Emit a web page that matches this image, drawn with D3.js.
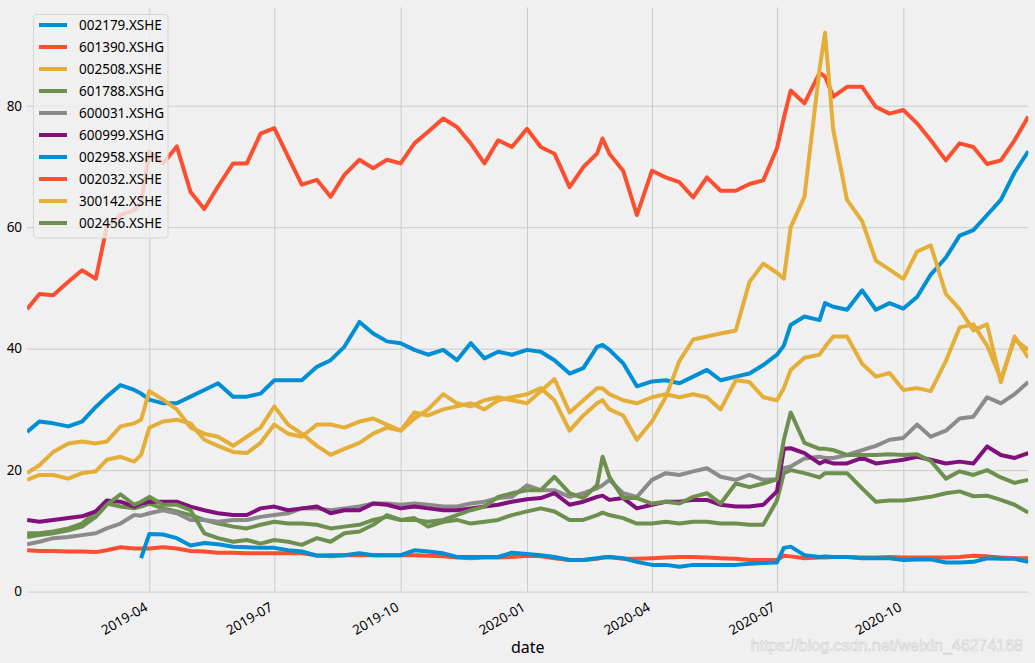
<!DOCTYPE html>
<html lang="en">

<head>
    <meta charset="UTF-8">
    <title>Document</title>
    <style>
        body {
            margin: 0;
            background: #f0f0f0;
        }

        svg {
            display: block;
        }

        .axis text {
            font-family: "Noto Sans", sans-serif;
            font-size: 13.5px;
            fill: #000;
        }

        .axis line {
            stroke: #cbcbcb;
            stroke-width: 1;
        }

        .axis path {
            display: none;
        }

        .legend text {
            font-family: "Noto Sans", sans-serif;
            font-size: 13.5px;
            fill: #000;
        }
    </style>
    <script src="https://d3js.org/d3.v7.min.js"></script>
</head>

<body>
    <svg width="1035" height="663"></svg>

    <script>
        // sample dates (about every 10 days, plus a few extra around spikes)
        var dates = [
            "2019-01-02", "2019-01-11", "2019-01-21", "2019-02-01", "2019-02-11", "2019-02-21", "2019-03-01", "2019-03-11", "2019-03-21", "2019-03-26",
            "2019-04-01", "2019-04-11", "2019-04-21", "2019-05-01", "2019-05-11", "2019-05-21", "2019-06-01", "2019-06-11", "2019-06-21",
            "2019-07-01", "2019-07-11", "2019-07-21", "2019-08-01", "2019-08-11", "2019-08-21", "2019-09-01", "2019-09-11", "2019-09-21",
            "2019-10-01", "2019-10-11", "2019-10-21", "2019-11-01", "2019-11-11", "2019-11-21", "2019-12-01", "2019-12-11", "2019-12-21",
            "2020-01-01", "2020-01-11", "2020-01-21", "2020-02-01", "2020-02-11", "2020-02-21", "2020-02-25", "2020-03-01", "2020-03-11", "2020-03-21",
            "2020-04-01", "2020-04-11", "2020-04-21", "2020-05-01", "2020-05-11", "2020-05-21", "2020-06-01", "2020-06-11", "2020-06-21",
            "2020-07-01", "2020-07-06", "2020-07-11", "2020-07-21", "2020-08-01", "2020-08-05", "2020-08-11", "2020-08-21",
            "2020-09-01", "2020-09-11", "2020-09-21", "2020-10-01", "2020-10-11", "2020-10-21", "2020-11-01", "2020-11-11", "2020-11-21",
            "2020-12-01", "2020-12-11", "2020-12-21", "2020-12-31"
        ];

        var s002179 = [
            26.3, 28.0, 27.7, 27.2, 28.0, 30.4, 32.1, 34.0, 33.2, 32.6,
            31.6, 31.0, 31.0, 32.1, 33.2, 34.3, 32.1, 32.1, 32.6,
            34.8, 34.8, 34.8, 37.0, 38.1, 40.3, 44.4, 42.5, 41.2,
            40.9, 39.8, 39.0, 39.8, 38.1, 40.9, 38.4, 39.5, 39.0,
            39.8, 39.5, 38.1, 35.9, 36.8, 40.3, 40.6, 39.8, 37.6, 33.8,
            34.6, 34.8, 34.3, 35.4, 36.5, 34.8, 35.4, 35.9, 37.3,
            39.0, 40.5, 43.9, 45.3, 44.7, 47.5, 46.9, 46.4,
            49.6, 46.4, 47.5, 46.6, 48.5, 52.2, 55.0, 58.6, 59.5,
            62.0, 64.5, 69.0, 72.5
        ];

        var s601390 = [
            6.8, 6.7, 6.7, 6.6, 6.6, 6.5, 6.8, 7.3, 7.1, 7.1,
            7.1, 7.3, 7.1, 6.7, 6.6, 6.4, 6.4, 6.3, 6.3,
            6.3, 6.3, 6.3, 6.0, 5.8, 6.0, 6.0, 6.0, 6.0,
            6.0, 6.0, 5.9, 5.8, 5.6, 5.5, 5.6, 5.6, 5.7,
            5.9, 5.8, 5.5, 5.2, 5.2, 5.4, 5.6, 5.7, 5.4, 5.4,
            5.5, 5.6, 5.7, 5.7, 5.6, 5.5, 5.4, 5.2, 5.2,
            5.2, 5.9, 5.8, 5.5, 5.6, 5.6, 5.7, 5.7,
            5.6, 5.6, 5.7, 5.6, 5.6, 5.6, 5.6, 5.7, 5.9,
            5.8, 5.6, 5.5, 5.5
        ];

        var s002508 = [
            19.5, 20.8, 23.0, 24.4, 24.7, 24.4, 24.7, 27.2, 27.7, 28.3,
            33.0, 31.6, 30.0, 27.0, 26.0, 25.5, 24.0, 25.5, 27.0,
            30.5, 27.5, 26.0, 24.0, 22.5, 23.5, 24.5, 26.0, 27.0,
            26.5, 28.5, 30.0, 32.5, 31.0, 30.5, 31.5, 32.0, 31.5,
            31.0, 33.0, 35.0, 29.5, 31.5, 33.5, 33.5, 32.5, 31.5, 31.0,
            32.0, 32.5, 32.0, 32.5, 32.0, 30.0, 34.8, 34.5, 32.0,
            31.5, 33.5, 36.5, 38.5, 39.0, 40.3, 42.0, 42.0,
            37.5, 35.4, 36.0, 33.2, 33.5, 33.0, 38.0, 43.5, 44.0,
            40.5, 35.0, 41.5, 39.8
        ];

        var s601788 = [
            9.6, 9.6, 9.9, 10.4, 11.2, 13.2, 14.5, 14.0, 13.7, 14.0,
            14.5, 13.7, 13.2, 12.6, 11.8, 11.2, 10.7, 10.4, 11.0,
            11.5, 11.2, 11.2, 11.0, 10.4, 10.7, 11.0, 11.8, 12.3,
            11.8, 12.1, 10.7, 11.5, 11.8, 11.2, 11.5, 11.8, 12.6,
            13.2, 13.7, 13.2, 11.8, 11.8, 12.6, 13.0, 12.6, 12.1, 11.2,
            11.2, 11.5, 11.2, 11.5, 11.5, 11.2, 11.2, 11.0, 11.0,
            15.0, 19.5, 20.0, 19.5, 18.8, 19.5, 19.5, 19.5,
            17.0, 14.8, 15.0, 15.0, 15.3, 15.6, 16.2, 16.5, 15.7,
            15.8, 15.1, 14.3, 13.0
        ];

        var s600031 = [
            7.8, 8.2, 8.8, 9.0, 9.3, 9.6, 10.4, 11.2, 12.6, 12.5,
            12.9, 13.4, 12.9, 11.8, 11.8, 11.5, 11.8, 11.8, 12.3,
            12.6, 12.9, 13.7, 13.7, 13.4, 13.7, 14.0, 14.5, 14.5,
            14.3, 14.5, 14.3, 14.0, 14.0, 14.5, 14.8, 15.4, 15.6,
            17.5, 16.7, 16.7, 15.6, 16.2, 17.0, 17.5, 18.4, 16.2, 15.6,
            18.4, 19.5, 19.2, 19.8, 20.3, 18.9, 18.4, 19.2, 18.4,
            18.5, 20.3, 20.6, 21.9, 22.2, 22.0, 22.0, 22.5,
            23.3, 24.0, 25.0, 25.3, 27.5, 25.5, 26.5, 28.5, 28.8,
            32.0, 31.0, 32.5, 34.5
        ];

        var s600999 = [
            11.8, 11.5, 11.8, 12.1, 12.4, 13.2, 15.0, 14.8, 14.0, 14.5,
            14.8, 14.8, 14.8, 14.0, 13.4, 12.9, 12.6, 12.6, 13.7,
            14.0, 13.4, 13.7, 14.0, 12.9, 13.4, 13.4, 14.5, 14.3,
            13.7, 14.0, 13.7, 13.4, 13.4, 13.7, 14.0, 14.3, 14.8,
            15.2, 15.4, 16.2, 14.3, 14.8, 15.6, 15.8, 15.1, 15.4, 13.7,
            14.3, 14.8, 14.8, 15.1, 15.1, 14.3, 14.0, 14.0, 14.3,
            16.5, 23.5, 23.6, 22.8, 21.1, 21.5, 21.1, 21.1,
            22.0, 21.1, 21.4, 21.7, 22.2, 21.7, 21.1, 21.4, 21.1,
            23.9, 22.5, 22.0, 22.8
        ];

        // listed 2019-03-26, no price before that
        var s002958 = [
            null, null, null, null, null, null, null, null, null, 5.5,
            9.5, 9.4, 8.8, 7.6, 8.0, 7.8, 7.4, 7.3, 7.2,
            7.2, 6.8, 6.6, 5.9, 6.0, 6.0, 6.3, 6.0, 6.0,
            6.0, 6.8, 6.6, 6.3, 5.7, 5.7, 5.7, 5.7, 6.4,
            6.2, 6.0, 5.7, 5.2, 5.2, 5.5, 5.6, 5.7, 5.5, 4.9,
            4.4, 4.4, 4.1, 4.4, 4.4, 4.4, 4.4, 4.6, 4.7,
            4.8, 7.2, 7.4, 6.0, 5.7, 5.8, 5.7, 5.7,
            5.5, 5.5, 5.5, 5.2, 5.3, 5.3, 4.8, 4.8, 4.9,
            5.5, 5.4, 5.4, 4.9
        ];

        var s002032 = [
            46.5, 49.0, 48.8, 51.0, 52.9, 51.5, 60.0, 62.0, 62.8, 64.0,
            72.4, 70.5, 73.3, 65.8, 63.0, 66.7, 70.5, 70.5, 75.4,
            76.3, 71.6, 67.0, 67.8, 65.0, 68.6, 71.1, 69.7, 71.1,
            70.5, 73.8, 75.7, 77.9, 76.5, 73.8, 70.5, 74.3, 73.2,
            76.2, 73.2, 72.1, 66.6, 69.9, 72.1, 74.6, 72.1, 69.3, 62.0,
            69.3, 68.2, 67.4, 64.9, 68.2, 66.0, 66.0, 67.1, 67.7,
            73.0, 78.0, 82.5, 80.4, 85.4, 84.8, 81.5, 83.1,
            83.1, 79.8, 78.7, 79.3, 77.1, 74.3, 71.0, 73.8, 73.2,
            70.4, 71.0, 74.3, 78.2
        ];

        var s300142 = [
            18.4, 19.2, 19.2, 18.6, 19.5, 19.8, 21.7, 22.2, 21.4, 22.5,
            27.0, 28.0, 28.3, 27.7, 25.0, 24.0, 23.0, 22.8, 24.5,
            27.5, 26.0, 25.5, 27.5, 27.5, 27.0, 28.0, 28.5, 27.5,
            26.5, 29.5, 29.0, 30.0, 30.5, 31.0, 30.0, 31.5, 32.0,
            32.5, 33.5, 31.5, 26.5, 29.0, 31.0, 31.5, 30.0, 29.0, 25.0,
            28.0, 32.0, 38.0, 41.5, 42.0, 42.5, 43.0, 51.0, 54.0,
            52.5, 51.5, 60.0, 65.0, 86.0, 92.0, 76.0, 64.5,
            61.0, 54.5, 53.0, 51.5, 56.0, 57.0, 49.0, 46.5, 43.0,
            44.0, 34.5, 42.0, 38.5
        ];

        var s002456 = [
            9.0, 9.3, 9.6, 10.1, 10.7, 12.3, 14.3, 16.0, 14.3, 14.8,
            15.6, 14.3, 14.3, 13.4, 9.6, 8.8, 8.2, 8.5, 7.9,
            8.5, 8.2, 7.7, 8.8, 8.2, 9.6, 9.9, 11.0, 12.6,
            11.8, 11.8, 11.5, 11.8, 12.6, 13.4, 14.0, 15.6, 16.2,
            16.7, 16.7, 18.9, 16.2, 15.4, 17.5, 22.2, 18.9, 15.4, 15.4,
            14.5, 14.8, 14.5, 15.6, 16.2, 14.5, 17.8, 17.2, 17.8,
            18.5, 25.0, 29.5, 24.5, 23.5, 23.5, 23.3, 22.5,
            22.5, 22.5, 22.6, 22.5, 22.6, 21.5, 18.6, 19.8, 19.2,
            20.0, 18.8, 17.9, 18.4
        ];

        var names = ["002179.XSHE", "601390.XSHG", "002508.XSHE", "601788.XSHG", "600031.XSHG",
            "600999.XSHG", "002958.XSHE", "002032.XSHE", "300142.XSHE", "002456.XSHE"];
        var values = [s002179, s601390, s002508, s601788, s600031, s600999, s002958, s002032, s300142, s002456];
        var colors = ["#008fd5", "#fc4f30", "#e5ae38", "#6d904f", "#8b8b8b", "#810f7c",
            "#008fd5", "#fc4f30", "#e5ae38", "#6d904f"];

        var xTicks = ["2019-04-01", "2019-07-01", "2019-10-01", "2020-01-01", "2020-04-01", "2020-07-01", "2020-10-01"];
        var yTicks = [0, 20, 40, 60, 80];

        var parse = d3.timeParse("%Y-%m-%d");

        var svg = d3.select("svg");
        var plotLeft = 27.1, plotRight = 1028.3, plotTop = 7.3, plotBottom = 591.6;

        var x = d3.scaleTime()
            .domain([parse("2019-01-02"), parse("2020-12-31")])
            .range([plotLeft, plotRight]);

        var y = d3.scaleLinear()
            .domain([0, 96.2])
            .range([plotBottom, plotTop]);

        svg.append("rect")
            .attr("width", 1035)
            .attr("height", 663)
            .attr("fill", "#f0f0f0");

        svg.append("clipPath")
            .attr("id", "plot-clip")
            .append("rect")
            .attr("x", plotLeft)
            .attr("y", plotTop)
            .attr("width", plotRight - plotLeft)
            .attr("height", plotBottom - plotTop);

        // y grid + labels
        svg.append("g")
            .attr("class", "axis")
            .attr("transform", "translate(" + plotLeft + ",0)")
            .call(d3.axisLeft(y).tickValues(yTicks).tickSize(-(plotRight - plotLeft)).tickPadding(5));

        // x grid + labels
        var xAxis = svg.append("g")
            .attr("class", "axis")
            .attr("transform", "translate(0," + plotBottom + ")")
            .call(d3.axisBottom(x)
                .tickValues(xTicks.map(parse))
                .tickFormat(d3.timeFormat("%Y-%m"))
                .tickSize(-(plotBottom - plotTop)));

        xAxis.selectAll(".tick text")
            .attr("y", 0)
            .attr("x", 0)
            .attr("dy", "0.71em")
            .attr("text-anchor", "end")
            .attr("transform", "translate(-6,10) rotate(-30)");

        svg.append("text")
            .attr("x", (plotLeft + plotRight) / 2)
            .attr("y", 653)
            .attr("text-anchor", "middle")
            .style("font-family", "Noto Sans, sans-serif")
            .style("font-size", "16px")
            .text("date");

        // lines
        var line = d3.line()
            .defined(function (d) { return d.v != null; })
            .x(function (d) { return x(d.date); })
            .y(function (d) { return y(d.v); });

        var lines = svg.append("g")
            .attr("clip-path", "url(#plot-clip)");

        values.forEach(function (vals, i) {
            var pts = dates.map(function (d, j) { return { date: parse(d), v: vals[j] }; });
            lines.append("path")
                .datum(pts)
                .attr("fill", "none")
                .attr("stroke", colors[i])
                .attr("stroke-width", 4)
                .attr("stroke-linejoin", "round")
                .attr("d", line);
        });

        // legend
        var legend = svg.append("g").attr("class", "legend");

        legend.append("rect")
            .attr("x", 33.5)
            .attr("y", 14.5)
            .attr("width", 134.5)
            .attr("height", 223.5)
            .attr("rx", 3)
            .attr("fill", "#f0f0f0")
            .attr("fill-opacity", 0.8)
            .attr("stroke", "#d6d6d6");

        var item = legend.selectAll(".item")
            .data(names)
            .enter().append("g")
            .attr("transform", function (d, i) { return "translate(0," + (25 + i * 22) + ")"; });

        item.append("line")
            .attr("x1", 39)
            .attr("x2", 67)
            .attr("stroke", function (d, i) { return colors[i]; })
            .attr("stroke-width", 4);

        item.append("text")
            .attr("x", 79)
            .attr("dy", "0.35em")
            .text(function (d) { return d; });

        // watermark
        svg.append("text")
            .attr("x", 1023)
            .attr("y", 651)
            .attr("text-anchor", "end")
            .style("font-family", "Liberation Sans, Arial, sans-serif")
            .style("font-size", "16px")
            .attr("fill", "#fafafa")
            .attr("stroke", "#d2d2d2")
            .attr("stroke-width", 0.7)
            .text("https://blog.csdn.net/weixin_46274168");
    </script>
</body>

</html>
